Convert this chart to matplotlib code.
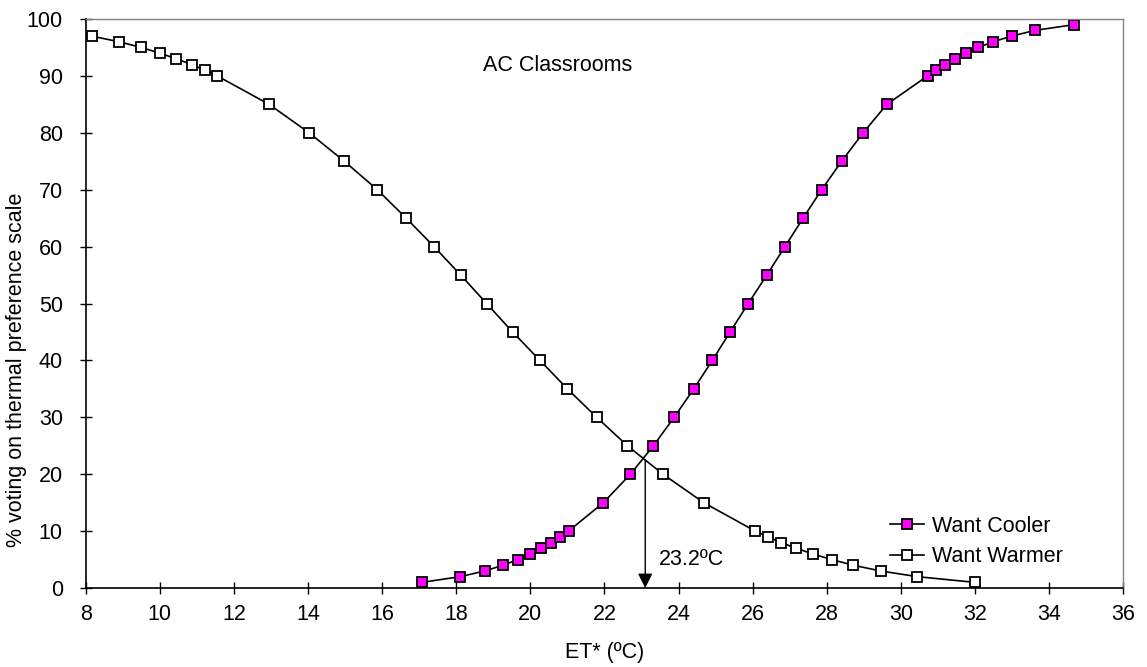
import matplotlib
matplotlib.use("Agg")
import matplotlib.pyplot as plt

plt.rcParams['font.family'] = ['Liberation Sans', 'DejaVu Sans']

# Want Cooler (filled magenta squares)
cooler_x = [17.08, 18.11, 18.77, 19.26, 19.66, 19.99, 20.30, 20.56, 20.81, 21.03,
            21.97, 22.70, 23.32, 23.88, 24.41, 24.91, 25.39, 25.88, 26.38, 26.87,
            27.36, 27.86, 28.40, 28.98, 29.62, 30.72, 30.94, 31.19, 31.45, 31.75,
            32.09, 32.49, 32.99, 33.62, 34.66]
cooler_y = [1, 2, 3, 4, 5, 6, 7, 8, 9, 10,
            15, 20, 25, 30, 35, 40, 45, 50, 55, 60,
            65, 70, 75, 80, 85, 90, 91, 92, 93, 94,
            95, 96, 97, 98, 99]

# Want Warmer (open squares)
warmer_x = [8.16, 8.90, 9.50, 10.00, 10.45, 10.86, 11.22, 11.55, 12.95, 14.03,
            14.98, 15.87, 16.65, 17.40, 18.12, 18.82, 19.52, 20.26, 21.00, 21.79,
            22.62, 23.58, 24.68, 26.07, 26.40, 26.76, 27.17, 27.62, 28.13, 28.72,
            29.45, 30.44, 31.99]
warmer_y = [97, 96, 95, 94, 93, 92, 91, 90, 85, 80,
            75, 70, 65, 60, 55, 50, 45, 40, 35, 30,
            25, 20, 15, 10, 9, 8, 7, 6, 5, 4,
            3, 2, 1]

neutral_t = 23.1
neutral_label = "23.2ºC"
cross_y = 22.5

FS = 15.5

fig = plt.figure(figsize=(11.47, 6.67), dpi=100)
ax = fig.add_axes([0.0747, 0.1184, 0.9046, 0.8531])

ax.plot(cooler_x, cooler_y, color='black', lw=1.2, marker='s', ms=7.5,
        mfc='#FF00FF', mec='black', mew=1.3, label='Want Cooler')
ax.plot(warmer_x, warmer_y, color='black', lw=1.2, marker='s', ms=7.5,
        mfc='white', mec='black', mew=1.3, label='Want Warmer')

ax.annotate('', xy=(neutral_t, 0), xytext=(neutral_t, cross_y),
            arrowprops=dict(arrowstyle='-|>', color='black', lw=1,
                            mutation_scale=22, shrinkA=0, shrinkB=0))
ax.text(23.47, 5.1, neutral_label, fontsize=FS, va='center', ha='left')
ax.text(18.72, 91.9, 'AC Classrooms', fontsize=FS, ha='left', va='center')

ax.set_xlim(8, 36)
ax.set_ylim(0, 100)
ax.set_xticks(range(8, 37, 2))
ax.set_yticks(range(0, 101, 10))
ax.tick_params(direction='inout', length=9, width=1, labelsize=FS,
               colors='black')
ax.tick_params(axis='x', pad=7)
ax.tick_params(axis='y', pad=12)
ax.set_xlabel('ET* (ºC)', fontsize=FS)
ax.set_ylabel('% voting on thermal preference scale', fontsize=FS)
ax.xaxis.set_label_coords(0.5, -0.094)
ax.yaxis.set_label_coords(-0.057, 0.384)

for s in ['top', 'right']:
    ax.spines[s].set_color('#808080')
    ax.spines[s].set_linewidth(1)
for s in ['left', 'bottom']:
    ax.spines[s].set_color('black')
    ax.spines[s].set_linewidth(1.2)

ax.legend(loc='center left', bbox_to_anchor=(0.775, 0.082), frameon=False,
          fontsize=FS, handlelength=1.6, handletextpad=0.35, labelspacing=0.45,
          borderpad=0, borderaxespad=0)

fig.savefig('out.png', dpi=100)
